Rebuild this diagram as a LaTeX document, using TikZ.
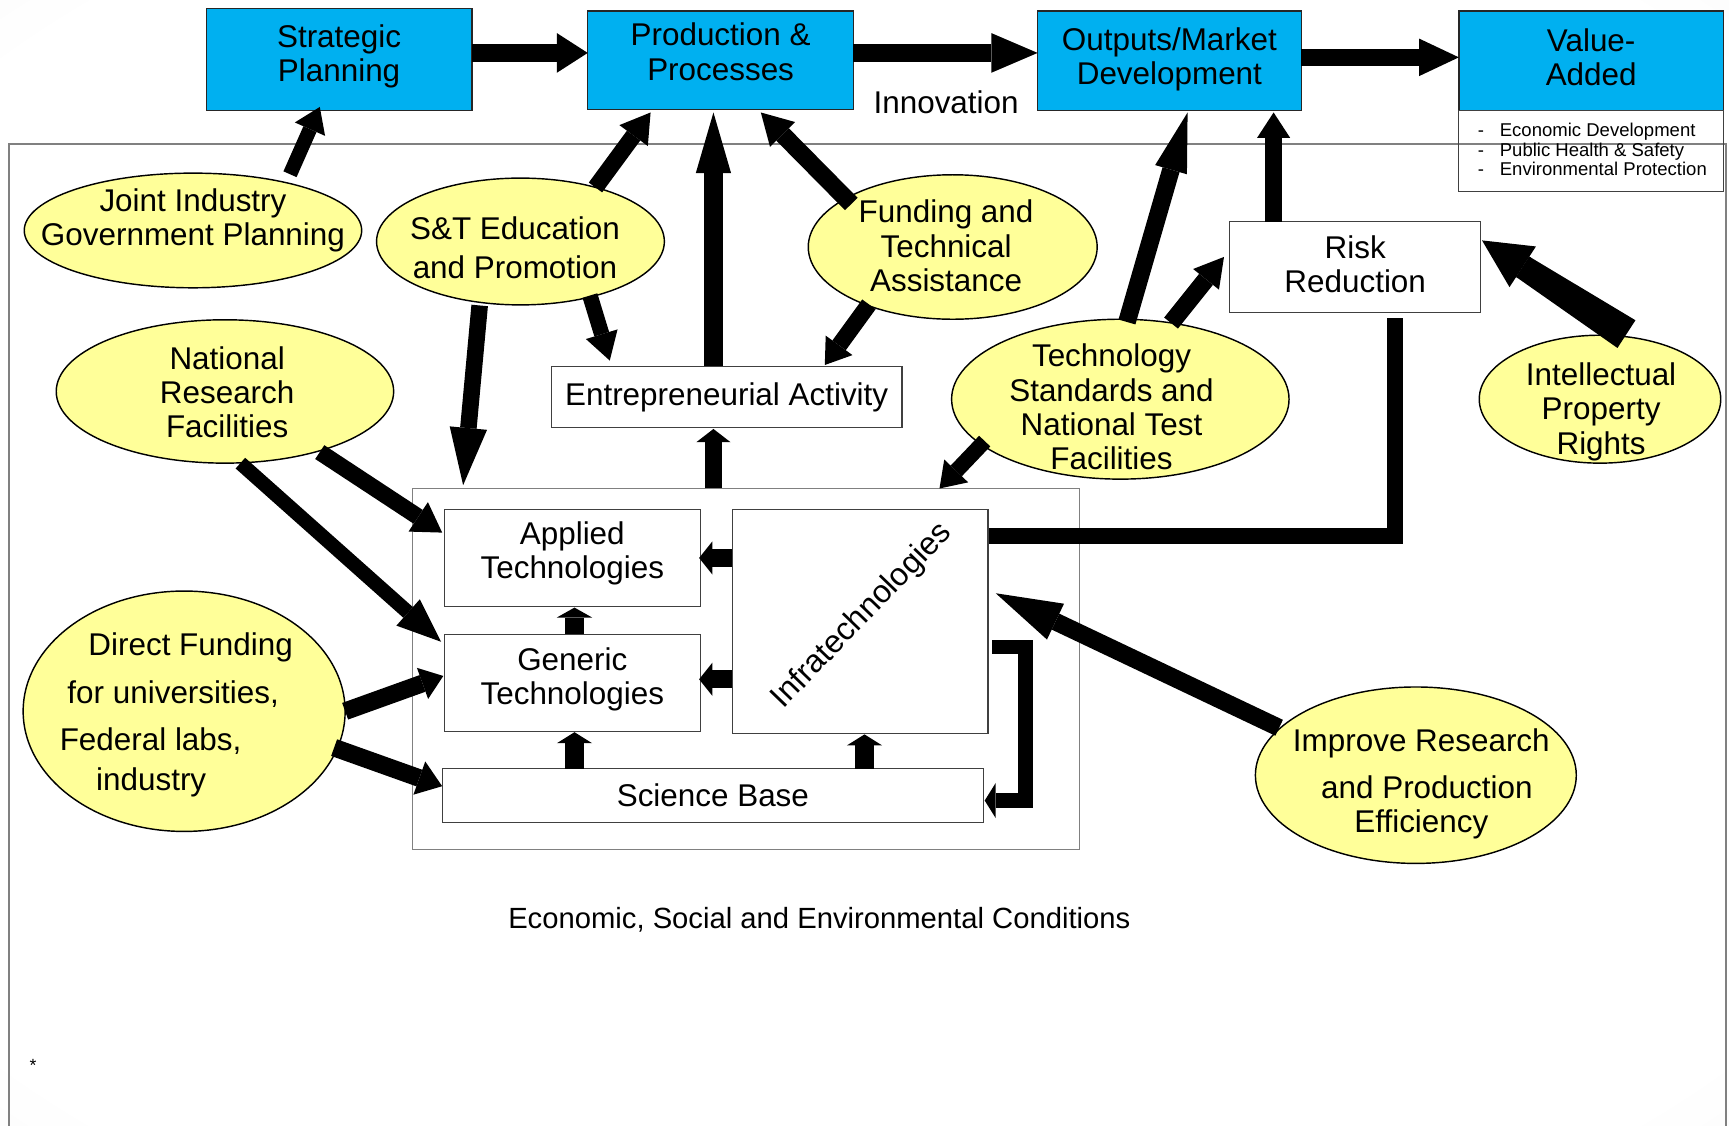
\documentclass[tikz,border=0pt]{standalone}
\usepackage{fontspec}
\setmainfont{Liberation Sans}
\usetikzlibrary{arrows.meta,shapes.geometric,calc}
\definecolor{boxblue}{HTML}{00B0F0}
\definecolor{ellfill}{HTML}{FFFF99}
\definecolor{framegray}{HTML}{808080}
\definecolor{edgegray}{HTML}{404040}
\pgfdeclareradialshading{pagebg}{\pgfpoint{0bp}{0bp}}%
  {color(0bp)=(white); color(33bp)=(white); color(72bp)=(black!13)}

\tikzset{
  txt/.style={font=\fontsize{28.5pt}{31pt}\selectfont, align=center, inner sep=0pt},
  topbox/.style={draw=black!85, line width=1.2pt, fill=boxblue, inner sep=0pt, outer sep=0pt},
  wbox/.style={draw=edgegray, line width=1pt, fill=white, inner sep=0pt, outer sep=0pt,
               font=\fontsize{28.5pt}{31pt}\selectfont, align=center},
  ell/.style={ellipse, draw=black, line width=1.3pt, fill=ellfill, inner sep=0pt, outer sep=0pt},
  blk/.style n args={3}{line width=#1pt, line cap=butt,
                        -{Triangle[length=#2pt, width=#3pt, line width=0pt]}},
  bar/.style={line width=#1pt, line cap=butt, line join=miter},
}

\begin{document}
\begin{tikzpicture}[x=1pt, y=-1pt]
  \useasboundingbox (0,0) rectangle (1568,1021);
  % soft grey page background
  \shade[shading=pagebg] (0,0) rectangle (1568,1021);
  % outer frame of the conditions area
  \draw[framegray, line width=1.5pt] (8,1021) -- (8,130.5) -- (1565.5,130.5) -- (1565.5,1021);

  % top row
  \node[topbox, minimum width=241, minimum height=92] (sp) at (307.5,54) {};
  \node[txt] (spt) at (307.5,51) {Strategic\\Planning};
  \node[topbox, minimum width=241, minimum height=89] (pp) at (653.5,54.5) {};
  \node[txt] (ppt) at (653.5,47) {Production \&\\Processes};
  \node[topbox, minimum width=239, minimum height=90] (om) at (1060.5,55) {};
  \node[txt] (omt) at (1060.5,54) {Outputs/Market\\Development};
  \node[topbox, minimum width=240, minimum height=90] (va) at (1443,55) {};
  \node[txt] (vat) at (1443,52) {Value-\\Added};
  \node[draw=edgegray, line width=1pt, inner sep=0pt, outer sep=0pt,
        minimum width=240, minimum height=74] (vl) at (1443,137) {};
  \node[anchor=west, align=left, inner sep=0pt,
        font=\fontsize{16.8pt}{17.5pt}\selectfont] (vlt) at (1340,135.5)
       {\makebox[20pt][l]{-}Economic Development\\
        \makebox[20pt][l]{-}Public Health \& Safety\\
        \makebox[20pt][l]{-}Environmental Protection};
  \node[txt] (inn) at (858,93) {Innovation};

  % boxes
  \node[wbox, minimum width=318, minimum height=56] (ent) at (659,360) {Entrepreneurial Activity};
  \node[wbox, minimum width=228, minimum height=82] (rr) at (1229,242) {};
  \node[txt] (rrt) at (1229,239.5) {Risk\\Reduction};
  \node[draw=framegray, line width=1pt, fill=white, inner sep=0pt, outer sep=0pt,
        minimum width=605, minimum height=327] (cont) at (676.5,606.5) {};
  \node[wbox, minimum width=232, minimum height=88] (app) at (519,506) {};
  \node[txt] (appt) at (519,502) {Applied\\Technologies};
  \node[wbox, minimum width=232, minimum height=88] (gen) at (519,619) {};
  \node[txt] (gent) at (519,616) {Generic\\Technologies};
  \node[wbox, minimum width=232, minimum height=203] (inf) at (780,563.5) {};
  \node[font=\fontsize{29pt}{31pt}\selectfont, inner sep=0pt, rotate=46] (inft) at (782,558.5) {Infratechnologies};
  \node[wbox, minimum width=491, minimum height=49] (sci) at (646.5,721.5) {Science Base};

  % ellipses
  \node[ell, minimum width=306, minimum height=104] (jig) at (175,209) {};
  \node[txt] (jigt) at (175,199.5) {Joint Industry\\Government Planning};
  \node[ell, minimum width=261, minimum height=115] (ste) at (472,219) {};
  \node[txt, font=\fontsize{28.5pt}{35pt}\selectfont] (stet) at (467,224.5) {S\&T Education\\and Promotion};
  \node[ell, minimum width=262, minimum height=131] (fta) at (864,224) {};
  \node[txt] (ftat) at (858,223) {Funding and\\Technical\\Assistance};
  \node[ell, minimum width=306, minimum height=130] (nrf) at (204,355) {};
  \node[txt] (nrft) at (206,356) {National\\Research\\Facilities};
  \node[ell, minimum width=306, minimum height=145] (tsn) at (1016,362) {};
  \node[txt] (tsnt) at (1008,369) {Technology\\Standards and\\National Test\\Facilities};
  \node[ell, minimum width=219, minimum height=116] (ipr) at (1451,362) {};
  \node[txt] (iprt) at (1452,373.5) {Intellectual\\Property\\Rights};
  \node[ell, minimum width=292, minimum height=218] (dfu) at (167,645) {};
  \node[txt, anchor=base west] (dft1) at (80,594) {Direct Funding};
  \node[txt, anchor=base west] (dft2) at (61,638) {for universities,};
  \node[txt, anchor=base west] (dft3) at (54,681) {Federal labs,};
  \node[txt, anchor=base west] (dft4) at (87,717) {industry};
  \node[ell, minimum width=291, minimum height=160] (ire) at (1284,703) {};
  \node[txt] (iret) at (1289,711) {Improve Research\\[12pt]\hspace*{10pt}and Production\\Efficiency};

  % bottom texts
  \node[font=\fontsize{26.5pt}{28pt}\selectfont, inner sep=0pt] (esc) at (743,834)
       {Economic, Social and Environmental Conditions};
  \node[font=\fontsize{16pt}{16pt}\selectfont, inner sep=0pt] (ast) at (30,966) {*};

  % top row flow
  \draw[blk={16}{28}{36}] ($(sp.east)+(0,-6)$) -- ($(pp.west)+(0,-6.5)$);
  \draw[blk={16}{42}{36}] ($(pp.east)+(0,-6.5)$) -- ($(om.west)+(0,-7)$);
  \draw[blk={15}{36}{34}] ($(om.east)+(0,-3)$) -- ($(va.west)+(0,-3)$);

  % into the top row
  \draw[blk={13}{22}{30}] ($(jig.center)+(88,-51)$) -- ($(sp.south)+(-17.5,-3)$);
  \draw[blk={15}{26}{32}] ($(ste.center)+(68,-49)$) -- ($(pp.south)+(-63.5,3)$);
  \draw[blk={17}{55}{32}] ($(ent.north)+(-12,0)$) -- ($(pp.south)+(-6.5,3)$);
  \draw[blk={16}{28}{32}] ($(fta.center)+(-92,-39)$) -- ($(pp.south)+(36.5,3)$);
  \draw[blk={16}{54}{30}] ($(tsn.center)+(6,-70)$) -- ($(om.south)+(16.5,2)$);
  \draw[blk={15}{23}{30}] ($(rr.north)+(-74,0)$) -- ($(om.south)+(94.5,2)$);

  % middle
  \draw[blk={15}{22}{30}] ($(fta.center)+(-76,52)$) -- ($(ent.north)+(89,-1)$);
  \draw[blk={14}{25}{30}] ($(ste.center)+(63,49)$) -- ($(ent.north)+(-106,-5)$);
  \draw[blk={15}{52}{34}] ($(ste.center)+(-37,58)$) -- ($(cont.north)+(-256.5,-3)$);
  \draw[blk={15}{12}{31}] ($(cont.north)+(-29.5,0)$) -- ($(ent.south)+(-12,1)$);
  \draw[blk={16}{26}{30}] ($(tsn.center)+(46,-69)$) -- ($(rr.west)+(-5,-9)$);
  % wide, tapering arrow from the property-rights ellipse
  \coordinate (iptail) at ($(ipr.center)+(24,-59)$);
  \coordinate (iptip) at ($(rr.east)+(1,-24)$);
  \coordinate (ipbase) at ($(iptip)!44pt!(iptail)$);
  \fill ($(iptail)!15pt!90:(iptip)$) -- ($(iptail)!15pt!-90:(iptip)$)
        -- ($(ipbase)!11pt!90:(iptail)$) -- ($(ipbase)!11pt!-90:(iptail)$) -- cycle;
  \draw[blk={22}{44}{44}] ($(iptip)!46pt!(iptail)$) -- (iptip);
  \draw[blk={14}{22}{30}] ($(tsn.center)+(-123,38)$) -- ($(cont.north)+(175.5,0)$);
  \draw[bar=14] ($(inf.east)+(1,-77.5)$) -| ($(rr.south)+(36,5)$);
  \draw[blk={16}{60}{36}] ($(ire.center)+(-124,-43)$) -- ($(inf.east)+(7,-25.5)$);

  % inside the technology block
  \draw[blk={13}{10}{32}, line join=miter] ($(inf.east)+(4,23.5)$) -- ++(30,0) |- ($(sci.east)+(1,4.5)$);
  \draw[blk={16}{12}{30}] ($(inf.west)+(0,-57.5)$) -- ($(app.east)+(-1,0)$);
  \draw[blk={16}{12}{30}] ($(inf.west)+(0,52.5)$) -- ($(gen.east)+(-1,-3)$);
  \draw[blk={18}{9}{32}] ($(gen.north)+(2,0)$) -- ($(app.south)+(2,1)$);
  \draw[blk={18}{10}{32}] ($(sci.north)+(-125.5,0)$) -- ($(gen.south)+(2,1)$);
  \draw[blk={18}{10}{32}] ($(sci.north)+(137.5,0)$) -- ($(inf.south)+(4,1)$);

  % from the left-hand programmes
  \draw[blk={15}{26}{32}] ($(nrf.center)+(86,55)$) -- ($(app.west)+(-2,-23)$);
  \draw[blk={13}{40}{32}] ($(nrf.center)+(14,65)$) -- ($(gen.west)+(-3,-37)$);
  \draw[blk={16}{20}{30}] ($(dfu.center)+(146,0)$) -- ($(gen.west)+(-1,-6)$);
  \draw[blk={16}{22}{32}] ($(dfu.center)+(136,33)$) -- ($(sci.west)+(0,-8.5)$);
\end{tikzpicture}
\end{document}
